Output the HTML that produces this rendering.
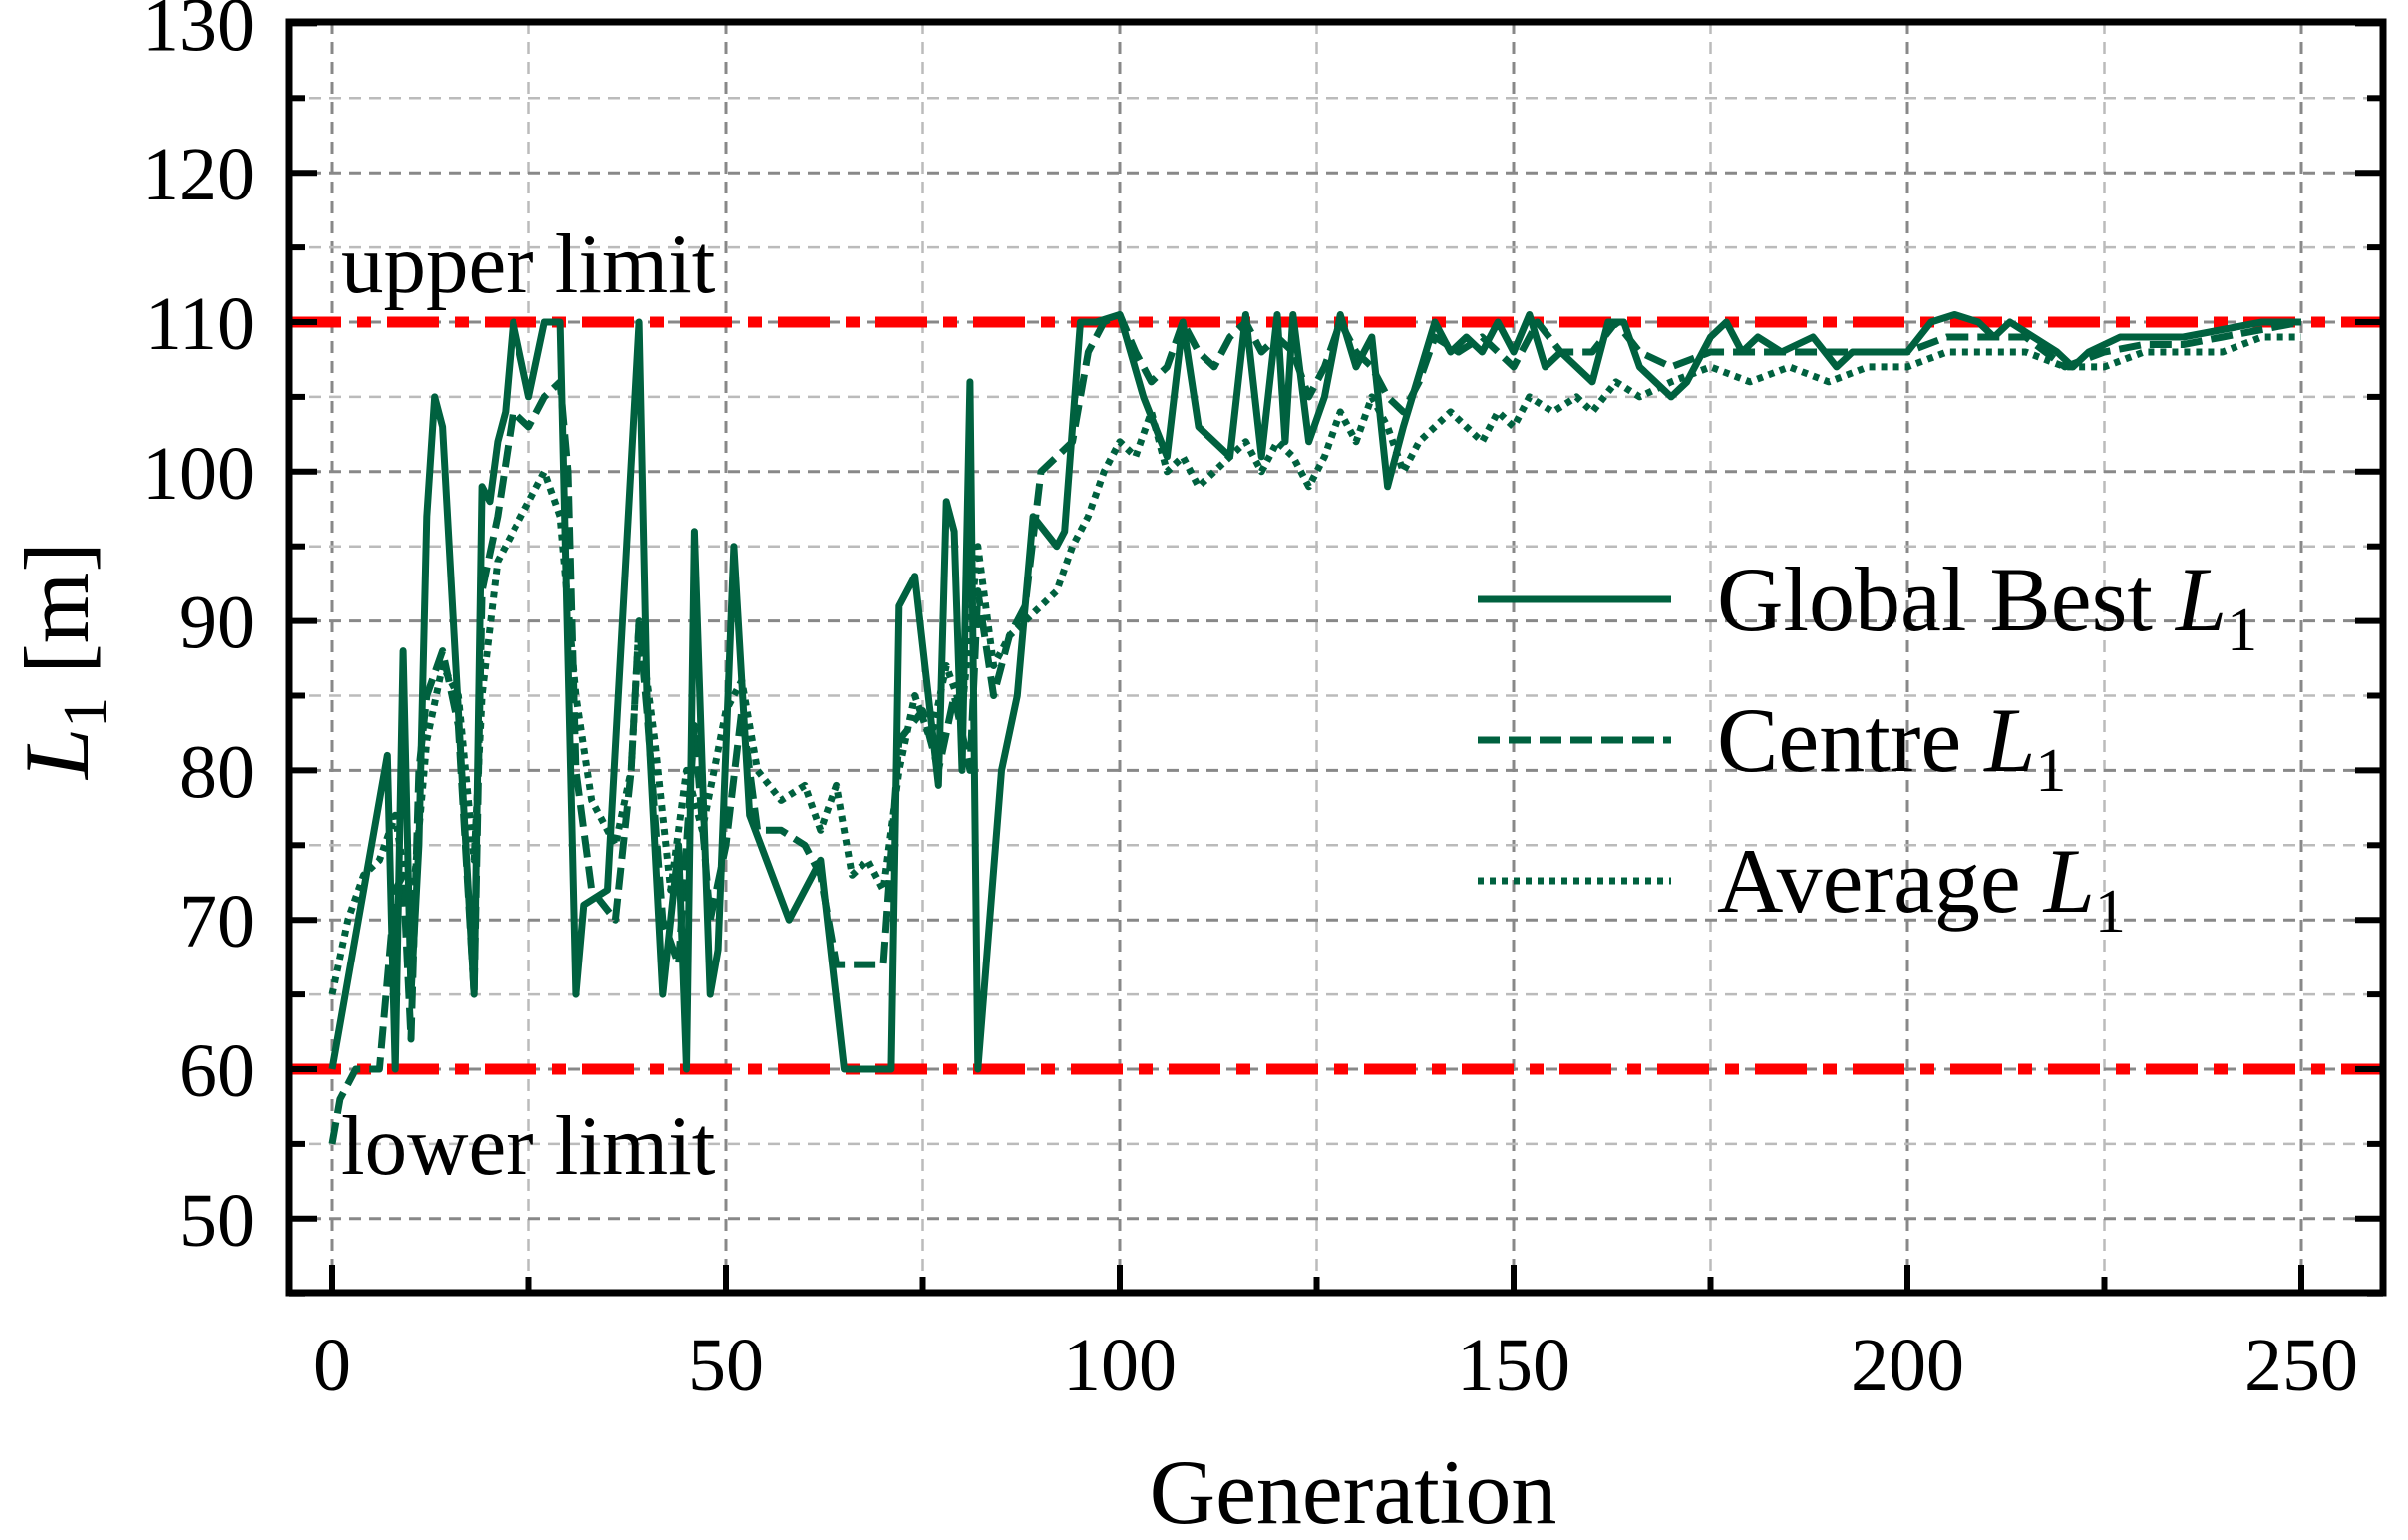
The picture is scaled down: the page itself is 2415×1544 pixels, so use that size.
<!DOCTYPE html>
<html><head><meta charset="utf-8"><style>
html,body{margin:0;padding:0;background:#fff;}
svg{display:block;font-family:"Liberation Serif",serif;}
</style></head><body>
<svg id="chart" width="2415" height="1544" viewBox="0 0 2415 1544" xmlns="http://www.w3.org/2000/svg">
<g id="grid"></g>
<g id="limits"></g>
<g id="series"></g>
<rect x="290" y="22" width="2100" height="1274" fill="none" stroke="#000" stroke-width="7"/>
<g id="ticks"></g>
<text x="342" y="293" font-size="85">upper limit</text>
<text x="342" y="1177" font-size="85">lower limit</text>
<text x="1357" y="1527" font-size="92" text-anchor="middle">Generation</text>
<text transform="translate(88,662) rotate(-90)" font-size="92" text-anchor="middle"><tspan font-style="italic">L</tspan><tspan font-size="62" dy="18">1</tspan><tspan dy="-18"> [m]</tspan></text>
<g id="legend">
 <g>
  <line x1="1482" y1="601" x2="1676" y2="601" stroke="#00613f" stroke-width="7"/>
  <text x="1722" y="632" font-size="92">Global Best <tspan font-style="italic">L</tspan><tspan font-size="62" dy="20">1</tspan></text>
 </g>
 <g>
  <line x1="1482" y1="742" x2="1676" y2="742" stroke="#00613f" stroke-width="7" stroke-dasharray="22,9"/>
  <text x="1722" y="773" font-size="92">Centre <tspan font-style="italic">L</tspan><tspan font-size="62" dy="20">1</tspan></text>
 </g>
 <g>
  <line x1="1482" y1="883" x2="1676" y2="883" stroke="#00613f" stroke-width="7" stroke-dasharray="6,6"/>
  <text x="1722" y="914" font-size="92">Average <tspan font-style="italic">L</tspan><tspan font-size="62" dy="20">1</tspan></text>
 </g>
</g>
</svg>
<script>
const xTicks=[0,50,100,150,200,250];
const yTicks=[50,60,70,80,90,100,110,120,130];
const limitValues=[60,110];
const bestGen=[0,7,8,9,10,11,12,13,14,18,19,20,21,22,23,25,27,29,31,32,35,39,40,42,44,45,46,47,48,49,51,53,58,62,65,71,72,74,77,78,79,80,81,82,85,87,89,92,93,95,97,100,103,106,108,110,114,116,118,120,121,122,124,126,128,130,132,134,136,140,142,144,146,148,150,152,154,156,158,160,162,164,166,168,170,172,175,177,179,181,184,188,191,193,197,200,203,206,209,211,213,216,219,221,223,227,231,235,240,245,250];
const bestVal=[60,81,60,88,65,75,97,105,103,65,99,98,102,104,110,105,110,110,65,71,72,110,85,65,75,60,96,80,65,68,95,77,70,74,60,60,91,93,79,98,96,80,106,60,80,85,97,95,96,110,110,110.5,105,101,110,103,101,110.5,101,110.5,102,110.5,102,105,110.5,107,109,99,103,110,108,109,108,110,108,110.5,107,108,107,106,110,110,107,106,105,106,109,110,108,109,108,109,107,108,108,108,110,110.5,110,109,110,109,108,107,108,109,109,109,109.5,110,110];
const centreGen=[0,1,3,5,6,7,8,9,10,11,12,14,16,18,19,21,23,25,27,29,30,31,33,36,38,39,40,42,44,46,48,50,52,54,57,60,62,64,67,70,72,75,77,79,81,82,84,86,88,90,92,94,96,98,100,102,104,106,108,110,112,114,116,118,120,122,124,126,128,130,132,134,136,138,140,143,146,150,153,156,160,163,166,170,175,180,185,190,195,200,205,210,215,220,225,230,235,240,245,250];
const centreVal=[55,58,60,60,60,66,72,73,62,80,85,88,83,65,92,97,104,103,105,106,100,80,72,70,80,90,84,70,67,83,70,75,84,76,76,75,73,67,67,67,82,84,80,85,80,92,85,89,91,100,101,102,108,110,110.5,108,106,107,110,108,107,109,110,108,109,108,105,107,110,108,107,105,104,106,109,108,109,107,110,108,108,110,108,107,108,108,108,108,108,108,109,109,109,107,108,108.5,108.5,109,109.5,110];
const avgGen=[0,2,4,6,8,10,12,14,16,18,19,21,23,25,27,29,31,33,36,38,39,41,43,45,47,50,52,54,57,60,62,64,66,68,70,72,74,76,78,80,82,84,86,88,90,92,94,96,98,100,102,104,106,108,110,112,114,116,118,120,122,124,126,128,130,132,134,136,138,140,142,144,146,148,150,152,155,158,160,163,166,170,175,180,185,190,195,200,205,210,215,220,225,230,235,240,245,250];
const avgVal=[65,70,73,74,77,70,82,87,85,74,85,94,96,98,100,97,85,78,75,80,90,82,72,80,76,84,86,80,78,79,76,79,73,74,72,80,85,82,87,84,95,87,89,90,91,92,95,97,100,102,101,104,100,101,99,100,101,102,100,102,101,99,101,104,102,105,103,100,102,103,104,103,102,104,103,105,104,105,104,106,105,106,107,106,107,106,107,107,108,108,108,107,107,108,108,108,109,109];

const NS='http://www.w3.org/2000/svg';
const X0=290,X1=2390,Y0=22,Y1=1296;
function xs(g){return 333+g*7.9;}
function ys(v){return 1072-(v-60)*14.98;}
function mk(tag,attrs,parent){const e=document.createElementNS(NS,tag);for(const k in attrs)e.setAttribute(k,attrs[k]);parent.appendChild(e);return e;}
const grid=document.getElementById('grid'),ticks=document.getElementById('ticks'),lim=document.getElementById('limits'),ser=document.getElementById('series');
for(let g=0;g<=250;g+=25){
 const major=g%50===0;
 const l=mk('line',{x1:xs(g),x2:xs(g),y1:Y0,y2:Y1,stroke:major?'#888':'#bbb','stroke-width':major?3:2.5,'stroke-dasharray':'12,8'},grid);
 
 
 const t=mk('line',{x1:xs(g),x2:xs(g),y1:Y1,y2:Y1-(major?28:16),stroke:'#000','stroke-width':6},ticks);
 
 
}
for(let v=45;v<=130;v+=5){
 const major=v%10===0;
 if(v>=50){
 const l=mk('line',{x1:X0,x2:X1,y1:ys(v),y2:ys(v),stroke:major?'#888':'#bbb','stroke-width':major?3:2.5,'stroke-dasharray':'12,8'},grid);
 
 
 }
 for(const side of [0,1]){
  const x=side?X1:X0,d=(major?28:16)*(side?-1:1);
  const t=mk('line',{x1:x,x2:x+d,y1:ys(v),y2:ys(v),stroke:'#000','stroke-width':6},ticks);
  
  
 }
}
xTicks.forEach(g=>{
 const t=mk('text',{x:xs(g),y:1394,'font-size':76,'text-anchor':'middle'},ticks);t.textContent=g;
 
 
});
yTicks.forEach(v=>{
 const t=mk('text',{x:256,y:ys(v)+27,'font-size':76,'text-anchor':'end'},ticks);t.textContent=v;
 
 
});
limitValues.forEach(v=>{
 const l=mk('line',{x1:X0,x2:X1,y1:ys(v),y2:ys(v),stroke:'#ff0000','stroke-width':11,'stroke-dasharray':'52,16,14,16'},lim);
 
 
});
function draw(gens,vals,dash,name){
 const pts=gens.map((g,i)=>xs(g).toFixed(1)+','+ys(vals[i]).toFixed(1)).join(' ');
 const p=mk('polyline',{points:pts,fill:'none',stroke:'#00613f','stroke-width':7,'stroke-linejoin':'round','stroke-dasharray':dash},ser);
 
 
}
draw(avgGen,avgVal,'6,6','average-l1-line');
draw(centreGen,centreVal,'22,9','centre-l1-line');
draw(bestGen,bestVal,'none','global-best-l1-line');
</script>
</body></html>
